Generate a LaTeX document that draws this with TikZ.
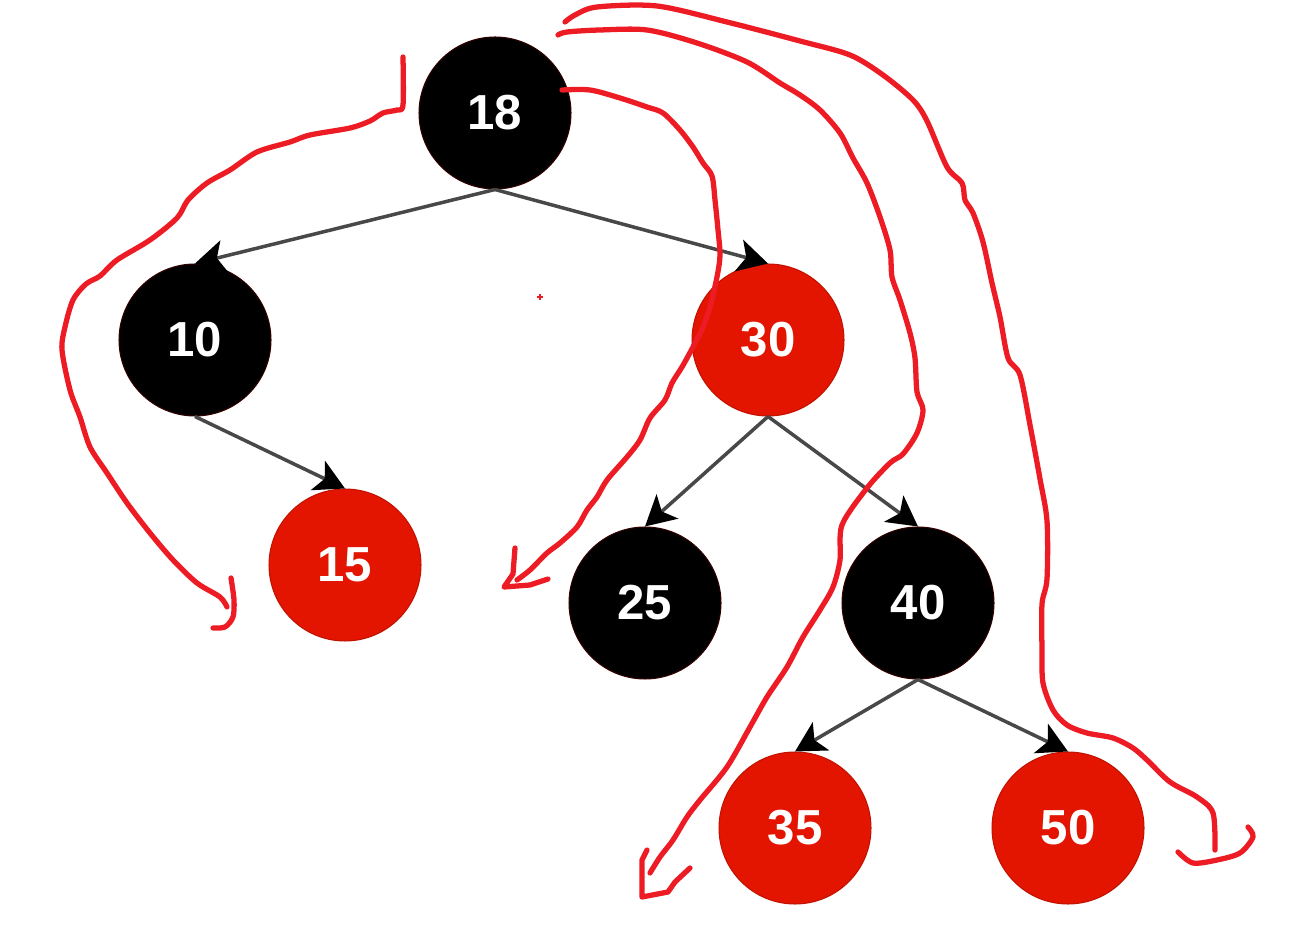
\documentclass[tikz,border=0pt]{standalone}
\usepackage{fontspec}
\usepackage{xcolor}
\usepackage{tikz}
\usetikzlibrary{arrows.meta,positioning}
\newfontfamily\keyfont{Liberation Sans}
\definecolor{nodered}{RGB}{227,21,0}
\definecolor{inkred}{RGB}{237,28,36}
\definecolor{edgegray}{RGB}{72,72,72}

\begin{document}
\begin{tikzpicture}[
    x=0.02cm, y=-0.02cm,
    rbnode/.style={circle, minimum size=3.04cm, inner sep=0pt, line width=0.6pt, text=white, font=\keyfont\fontsize{28}{28}\selectfont\bfseries},
    blacknode/.style={rbnode, fill=black, draw=black!80!red},
    rednode/.style={rbnode, fill=nodered, draw=nodered!85!black},
    edge/.style={-{Stealth[length=6mm, width=6.5mm, inset=1.5mm, color=black]}, line width=2pt, draw=edgegray},
    ink/.style={draw=inkred, line width=3pt, line cap=round, line join=round}
]
    \useasboundingbox (0,0) rectangle (1305,928);

    % Tree nodes
    \node[blacknode] (n18) at (495,113) {18};
    \node[blacknode] (n10) at (195,340) {10};
    \node[rednode]   (n30) at (768,340) {30};
    \node[rednode]   (n15) at (345,565) {15};
    \node[blacknode] (n25) at (645,603) {25};
    \node[blacknode] (n40) at (918,603) {40};
    \node[rednode]   (n35) at (795,828) {35};
    \node[rednode]   (n50) at (1068,828) {50};

    % Parent to child links
    \foreach \a/\b in {n18/n10, n18/n30, n10/n15, n30/n25, n30/n40, n40/n35, n40/n50} {
        \draw[edge] (\a.south) -- (\b.north);
    }

    % Hand-drawn strokes
    \draw[ink] plot[smooth, tension=0.5] coordinates {(403,57) (403,105) (397,110) (383,113) (370,121) (350,128) (310,135) (290,142) (257,152) (230,170) (207,183) (188,200) (177,218) (150,240) (117,260) (100,276) (86,284) (73,300) (65,327) (62,350) (70,390) (80,417) (90,447) (107,473) (127,503) (150,533) (173,560) (197,583) (220,597) (227,607)};
    \draw[ink] plot[smooth, tension=0.5] coordinates {(231,578) (234,600) (233,617) (225,627) (213,628)};

    \draw[ink] plot[smooth, tension=0.5] coordinates {(562,90) (590,90) (620,98) (647,107) (663,113) (680,130) (693,147) (703,163) (712,176) (715,200) (718,230) (720,255) (717,277) (710,307) (703,327) (693,347) (682,367) (672,383) (665,400) (650,418) (640,440) (627,457) (607,480) (597,497) (587,510) (577,527) (560,543) (547,553) (530,570) (517,580)};
    \draw[ink] (515,548) -- (513,574) -- (504,587) -- (530,585) -- (548,579);

    \draw[ink] plot[smooth, tension=0.5] coordinates {(558,35) (567,32) (600,30) (647,30) (697,43) (747,62) (780,83) (800,95) (820,110) (840,133) (853,158) (867,183) (880,217) (890,250) (892,277) (900,300) (910,333) (915,358) (917,392) (923,410) (917,433) (903,454) (890,463) (867,488) (842,525) (840,560) (833,587) (820,610) (803,637) (787,667) (767,697) (750,727) (727,767) (700,800) (687,817) (673,840) (660,857) (650,873)};
    \draw[ink] (647,850) -- (642,860) -- (642,897) -- (668,892) -- (675,882) -- (690,868);

    \draw[ink] plot[smooth, tension=0.5] coordinates {(565,22) (575,15) (597,7) (657,6) (727,22) (800,41) (850,55) (883,75) (913,100) (927,121) (947,167) (962,183) (965,200) (973,213) (983,242) (992,283) (1000,317) (1008,358) (1020,375) (1030,425) (1040,479) (1047,521) (1047,579) (1042,604) (1042,650) (1043,683) (1053,710) (1067,725) (1087,733) (1113,738) (1133,748) (1147,760) (1170,782) (1197,797) (1213,813) (1215,850)};
    \draw[ink] plot[smooth, tension=0.5] coordinates {(1178,852) (1193,863) (1217,860) (1240,853) (1253,837) (1248,827)};

    % stray mark
    \draw[inkred, line width=0.8pt] (537,297) -- (543,297) (540,294) -- (540,300);
\end{tikzpicture}
\end{document}
